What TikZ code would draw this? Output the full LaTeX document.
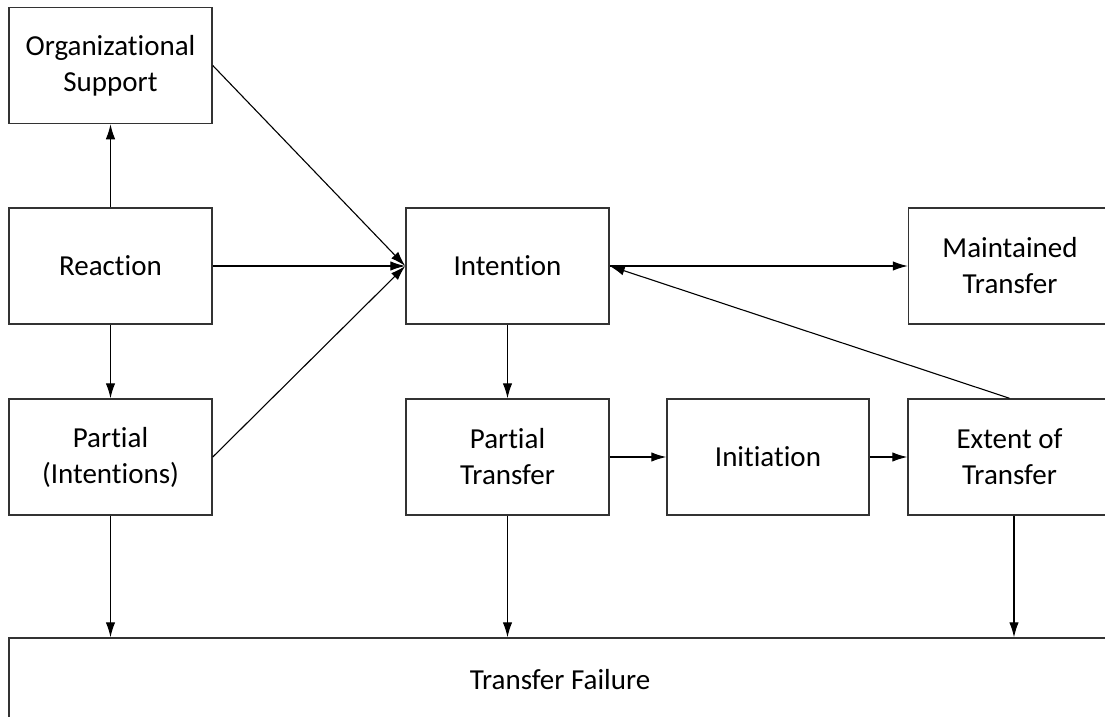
\documentclass[tikz,border=0pt]{standalone}
\usepackage{fontspec}
\setmainfont{Carlito}[Ligatures={NoCommon}]
\usetikzlibrary{arrows.meta}
\tikzset{
  box/.style={draw=black!80, line width=1.5pt, fill=white, minimum width=203pt,
    minimum height=116pt, inner sep=0pt, align=center,
    font=\fontsize{29}{36}\selectfont},
  arr/.style={draw=black, line width=1.1pt, -{Latex[length=15pt,width=9.5pt]}}
}
\begin{document}
\begin{tikzpicture}[x=1pt, y=-1pt]
  \useasboundingbox (0,0) rectangle (1105,717);
  \clip (0,0) rectangle (1105,717);

  % left column
  \node[box] (org)   at (110.5, 65.5) {Organizational\\Support};
  \node[box] (react) at (110.5, 266)  {Reaction};
  \node[box] (pint)  at (110.5, 457)  {Partial\\(Intentions)};

  % middle and right
  \node[box] (intent) at (507.5, 266) {Intention};
  \node[box] (maint)  at (1010, 266)  {Maintained\\Transfer};
  \node[box] (ptrans) at (507.5, 457) {Partial\\Transfer};
  \node[box, minimum width=202pt] (init) at (768, 457) {Initiation};
  \node[box] (extent) at (1009.5, 457) {Extent of\\Transfer};

  % wide bottom box
  \node[box, minimum width=1102pt, minimum height=86pt] (fail) at (560, 681) {};
  \node[font=\fontsize{29}{36}\selectfont] (failtxt) at (560, 680) {Transfer Failure};

  % connectors
  \draw[arr] (react.north) -- (org.south);
  \draw[arr] (react.south) -- (pint.north);
  \draw[arr] (org.east) -- (intent.west);
  \draw[arr] (react.east) -- (intent.west);
  \draw[arr] (pint.east) -- (intent.west);
  \draw[arr] (intent.east) -- (maint.west);
  \draw[arr] (extent.north) -- (intent.east);
  \draw[arr] (intent.south) -- (ptrans.north);
  \draw[arr] (ptrans.east) -- (init.west);
  \draw[arr] (init.east) -- (extent.west);
  \draw[arr] (pint.south) -- (pint.south |- fail.north);
  \draw[arr] (ptrans.south) -- (ptrans.south |- fail.north);
  \coordinate (exb) at ([xshift=4.5pt]extent.south);
  \draw[arr] (exb) -- (exb |- fail.north);
\end{tikzpicture}
\end{document}
